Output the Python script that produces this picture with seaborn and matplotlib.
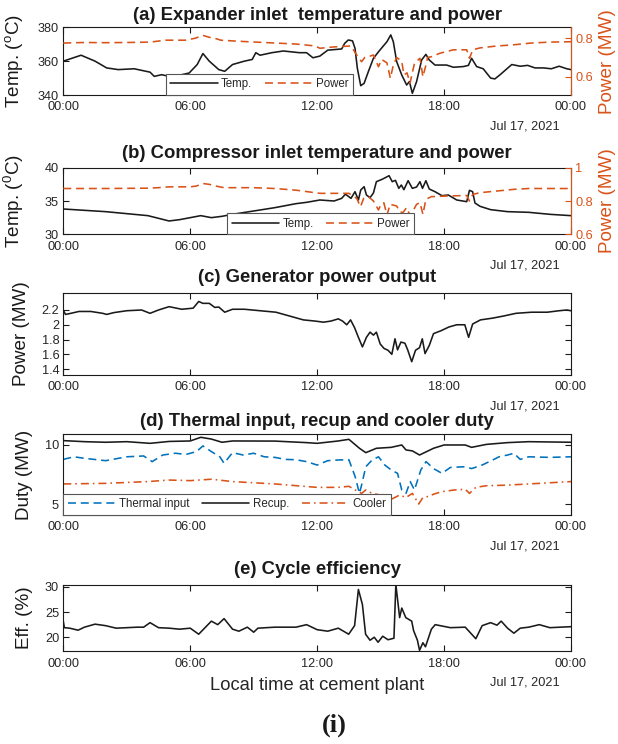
import matplotlib
matplotlib.use("Agg")
import matplotlib.pyplot as plt
import seaborn as sns
import numpy as np

# ---------------- data (hours since 00:00 Jul 16, 2021) ----------------
xtick_hours = [0, 6, 12, 18, 24]
xtick_labels = ["00:00", "06:00", "12:00", "18:00", "00:00"]
date_label = "Jul 17, 2021"

# (a) expander inlet temperature (degC) and power (MW)
t_exp_temp = [0, 0.84, 1.5, 2.05, 2.6, 3.35, 4.1, 4.3, 4.65, 5.0, 5.6, 5.95, 6.33, 6.6, 6.9, 7.35, 7.63, 8.0,
              8.56, 8.93, 9.1, 9.3, 9.86, 10.4, 11.16, 11.5, 11.8, 12.13, 12.5, 13.16, 13.3, 13.47, 13.67,
              13.79, 13.9, 14.06, 14.22, 14.42, 14.66, 14.97, 15.3, 15.48, 15.6, 15.76, 16.0, 16.23, 16.36,
              16.5, 16.7, 16.94, 17.14, 17.3, 17.57, 18.12, 18.44, 18.91, 19.15, 19.3, 19.54, 19.85, 20.2,
              20.4, 20.65, 21.2, 21.6, 21.95, 22.3, 22.7, 23.07, 23.44, 23.8, 24]
exp_temp = [360, 363.5, 360, 356, 355, 355.5, 353.5, 351, 352, 351, 352, 353, 358, 364.5, 360, 355, 354, 358,
            360, 361, 365, 363.5, 365, 366, 365, 365, 362, 363, 366.5, 367.2, 370.5, 372.5, 372,
            367.6, 355.8, 345.5, 346.9, 353.8, 361.7, 366.6, 371.5, 375.5, 371.5, 359.7, 351.8, 345.9, 347.9,
            341, 347.9, 360.7, 364, 360.7, 357.7, 357.7, 356.4, 356.8, 357.5, 361.7, 356.8, 355.5, 350,
            349.5, 352, 358, 357, 357.5, 356, 356, 355.5, 357, 355.5, 355]

t_exp_pow = [0, 1, 2, 3, 4.1, 4.84, 5.77, 6.23, 6.6, 6.9, 7.16, 7.44, 8.2, 9.1, 10.05, 11, 11.9, 12.13, 12.8,
             13.6, 13.87, 14.1, 14.25, 14.42, 14.66, 14.9, 15.05, 15.3, 15.46, 15.6, 15.76, 16.0, 16.1, 16.25,
             16.39, 16.6, 16.86, 17.0, 17.14, 17.22, 17.4, 17.8, 18.44, 19.07, 19.2, 19.36, 19.7, 20.5, 21.2,
             22.1, 23, 24]
exp_pow = [0.775, 0.778, 0.777, 0.778, 0.78, 0.79, 0.79, 0.80, 0.815, 0.805, 0.80, 0.79, 0.785, 0.78, 0.775,
           0.77, 0.76, 0.748, 0.755, 0.76, 0.713, 0.678, 0.70, 0.704, 0.713, 0.652, 0.69, 0.672, 0.592, 0.66,
           0.70, 0.68, 0.61, 0.62, 0.566, 0.67, 0.696, 0.60, 0.66, 0.70, 0.704, 0.722, 0.74, 0.74, 0.696,
           0.74, 0.75, 0.76, 0.765, 0.775, 0.78, 0.782]

# (b) compressor inlet temperature (degC) and power (MW)
t_comp_temp = [0, 0.5, 1, 2, 3, 4, 4.5, 5, 5.5, 6, 6.5, 7, 7.5, 8, 9, 10, 11, 11.5, 12.13, 12.8, 13.16, 13.3,
               13.35, 13.6, 13.79, 13.95, 14.06, 14.22, 14.33, 14.5, 14.66, 14.8, 15.1, 15.4, 15.55, 15.7,
               15.86, 15.98, 16.1, 16.3, 16.5, 16.7, 16.86, 16.98, 17.14, 17.3, 17.57, 17.9, 18.2, 18.6,
               19.07, 19.2, 19.35, 19.46, 19.7, 20.2, 21, 22, 23, 24]
comp_temp = [33.8, 33.7, 33.6, 33.4, 33.1, 32.8, 32.4, 32.0, 32.2, 32.5, 32.8, 32.5, 32.7, 33.0, 33.5, 34.0,
             34.6, 34.8, 35.15, 35.0, 35.4, 35.9, 36.0, 35.4, 36.4, 35.15, 36.65, 37.15, 35.9, 35.5, 36.2,
             37.9, 38.3, 38.8, 37.9, 38.1, 36.9, 37.4, 36.7, 38.05, 36.9, 37.1, 37.9, 36.9, 38.05, 36.8,
             36.4, 35.8, 35.9, 35.15, 34.9, 36.6, 36.4, 34.7, 34.2, 33.7, 33.4, 33.3, 33.0, 32.8]

t_comp_pow = [0, 2, 4, 4.5, 5, 6, 6.3, 6.6, 6.9, 7.2, 7.6, 9, 10, 11, 12.13, 13.5, 13.87, 14.05, 14.2, 14.42,
              14.66, 14.9, 14.98, 15.15, 15.3, 15.45, 15.76, 15.9, 16.05, 16.23, 16.4, 16.7, 16.86, 17.0,
              17.14, 17.4, 18.1, 19.07, 19.2, 19.36, 19.7, 20.5, 21.3, 22, 24]
comp_pow = [0.875, 0.875, 0.877, 0.88, 0.885, 0.885, 0.89, 0.905, 0.9, 0.89, 0.88, 0.88, 0.875, 0.865,
            0.846, 0.846, 0.816, 0.766, 0.816, 0.826, 0.80, 0.746, 0.77, 0.79, 0.716, 0.78, 0.77, 0.736,
            0.73, 0.76, 0.71, 0.78, 0.79, 0.72, 0.81, 0.826, 0.83, 0.833, 0.80, 0.84, 0.85, 0.86, 0.87,
            0.875, 0.875]

# (c) generator power output (MW)
t_gen = [0, 0.1, 0.28, 0.74, 1.3, 1.86, 2.05, 2.4, 3.0, 3.7, 4.1, 4.5, 5.0, 5.6, 6.14, 6.4, 6.6, 6.9, 7.16,
         7.35, 7.63, 8.0, 8.56, 9.3, 10.05, 10.8, 11.35, 11.9, 12.3, 12.65, 13.0, 13.2, 13.4, 13.58, 13.77,
         13.95, 14.14, 14.33, 14.5, 14.66, 14.8, 14.98, 15.16, 15.35, 15.53, 15.68, 15.8, 15.96, 16.15,
         16.28, 16.47, 16.65, 16.84, 16.97, 17.1, 17.3, 17.5, 17.86, 18.23, 18.6, 18.98, 19.16, 19.35,
         19.72, 20.3, 20.84, 21.4, 22.14, 22.88, 23.44, 23.8, 24]
gen_pow = [2.2, 2.14, 2.15, 2.18, 2.18, 2.155, 2.14, 2.165, 2.19, 2.2, 2.155, 2.2, 2.245, 2.21, 2.225, 2.315,
           2.29, 2.29, 2.235, 2.24, 2.17, 2.21, 2.21, 2.19, 2.17, 2.11, 2.066, 2.05, 2.035, 2.05, 2.08, 2.05,
           2.0, 2.066, 1.96, 1.83, 1.70, 1.83, 1.9, 1.86, 1.9, 1.74, 1.68, 1.655, 1.60, 1.81, 1.66, 1.766,
           1.75, 1.66, 1.50, 1.655, 1.69, 1.81, 1.61, 1.72, 1.88, 1.92, 1.97, 2.0, 2.0, 1.83, 2.01, 2.066,
           2.09, 2.12, 2.155, 2.17, 2.17, 2.19, 2.2, 2.19]

# (d) thermal input, recuperator and cooler duty (MW)
t_thermal = [0, 0.5, 1, 2, 3, 3.8, 4.2, 4.7, 5.3, 5.8, 6.3, 6.6, 7.0, 7.4, 7.6, 8.0, 8.5, 9.0, 9.5, 10.0,
             10.5, 11.0, 11.5, 12.0, 12.5, 13.0, 13.5, 13.8, 14.0, 14.1, 14.3, 14.6, 14.9, 15.2, 15.5, 15.8,
             16.0, 16.2, 16.4, 16.6, 16.9, 17.15, 17.5, 17.9, 18.3, 19.0, 19.3, 19.8, 20.3, 20.6, 21.0,
             21.3, 21.6, 22.0, 23.0, 24.0]
thermal = [8.78, 9.0, 8.87, 8.67, 9.0, 9.07, 8.59, 9.15, 9.3, 9.2, 9.44, 9.92, 9.44, 9.0, 8.45, 9.35, 9.15,
           9.3, 9.0, 8.95, 8.78, 8.75, 8.59, 8.3, 8.67, 8.73, 8.75, 7.3, 5.9, 6.6, 8.16, 8.73, 9.0, 8.3,
           7.88, 7.6, 6.19, 5.9, 6.9, 6.19, 7.88, 8.59, 8.0, 7.6, 8.1, 8.16, 8.0, 8.3, 8.73, 9.0, 9.15, 9.3,
           8.78, 9.0, 8.95, 9.0]

t_recup = [0, 1, 2, 3, 4.1, 5, 6, 6.5, 7, 7.5, 8, 10, 11.5, 12, 13, 13.5, 14, 14.3, 14.8, 15.5, 16.0, 16.2,
           16.5, 16.84, 17.5, 18, 19, 19.3, 20, 21, 22, 24]
recup = [10.37, 10.28, 10.23, 10.28, 10.14, 10.3, 10.34, 10.65, 10.5, 10.23, 10.34, 10.33, 10.2, 10.14,
         10.34, 10.48, 9.72, 9.35, 9.72, 9.8, 10.0, 9.58, 9.5, 9.15, 9.72, 10.0, 10.0, 9.8, 10.05, 10.2,
         10.28, 10.23]

t_cooler = [0, 2, 4, 5, 6, 7, 8, 10, 12, 13, 13.5, 13.8, 14.1, 14.3, 14.6, 15.0, 15.5, 15.9, 16.2, 16.5,
            16.8, 17.0, 17.3, 17.5, 17.9, 18.5, 19.0, 19.2, 19.5, 20, 21, 22, 24]
cooler = [6.7, 6.75, 6.9, 7.03, 6.98, 7.1, 6.9, 6.7, 6.41, 6.41, 6.5, 6.19, 5.9, 6.19, 5.9, 5.76, 5.4, 5.76,
          5.55, 5.9, 5.0, 5.55, 5.66, 5.83, 6.05, 6.19, 6.25, 5.9, 6.41, 6.55, 6.6, 6.7, 6.9]

# (e) cycle efficiency (%)
t_eff = [0, 0.05, 0.3, 0.7, 1.0, 1.5, 2.0, 2.5, 3.0, 3.5, 3.8, 4.1, 4.5, 5.0, 5.5, 6.0, 6.4, 7.0, 7.3, 7.6,
         8.0, 8.3, 8.7, 9.0, 9.2, 10, 11, 11.5, 12, 12.5, 13, 13.49, 13.77, 13.95, 14.14, 14.29, 14.5, 14.7,
         14.88, 15.1, 15.35, 15.63, 15.72, 15.9, 16.0, 16.19, 16.47, 16.56, 16.74, 16.84, 17.0, 17.12,
         17.4, 17.58, 18.3, 19.0, 19.5, 19.8, 20.2, 20.5, 20.7, 21.0, 21.3, 21.6, 22.0, 22.5, 23.0, 23.5, 24]
eff = [23.2, 21.9, 21.8, 21.4, 22.0, 22.6, 22.3, 21.8, 21.9, 22.0, 22.0, 22.9, 21.9, 21.8, 21.6, 21.8, 20.6,
       23.2, 22.5, 23.7, 21.6, 21.2, 22.0, 21.0, 21.8, 22.0, 22.0, 22.5, 21.5, 21.2, 21.8, 20.6, 22.3, 29.5,
       26.5, 20.6, 19.4, 20.0, 19.0, 20.2, 19.5, 19.8, 30.5, 23.9, 25.8, 23.9, 23.2, 21.3, 19.4, 17.4, 18.9,
       18.1, 21.6, 22.5, 21.9, 22.0, 19.7, 22.3, 22.9, 22.4, 23.2, 21.8, 20.8, 21.8, 22.0, 22.5, 21.9, 22.0,
       22.1]

# ---------------- styling ----------------
sns.set_theme(style="white")
plt.rcParams["font.family"] = ["Liberation Sans", "DejaVu Sans"]
plt.rcParams["mathtext.fontset"] = "custom"
plt.rcParams["mathtext.rm"] = "Liberation Sans"

ORANGE = "#D95319"
BLUE = "#0072BD"
TICKC = "#262626"
LW = 1.15
DASH = (5, 3)
DASHDOT = (5, 2.5, 1, 2.5)
TICK_FS = 9.2
LABEL_FS = 13.6
TITLE_FS = 13.3

W, H = 618, 744
fig = plt.figure(figsize=(W / 100, H / 100), dpi=100)

LEFT, RIGHT = 63.3, 571.0
AXW = RIGHT - LEFT


def make_ax(top, bottom):
    return fig.add_axes([LEFT / W, 1 - bottom / H, AXW / W, (bottom - top) / H])


def style_x(ax):
    ax.set_xlim(0, 24)
    ax.set_xticks(xtick_hours)
    ax.set_xticklabels(xtick_labels)
    ax.set_xlabel("")
    ax.tick_params(axis="x", direction="in", length=4, width=0.8, pad=4.5, labelsize=TICK_FS,
                   labelcolor=TICKC, color="k", top=True, bottom=True)
    ax.annotate(date_label, xy=(1, 0), xycoords="axes fraction", xytext=(-8.0, -22.5),
                textcoords="offset points", ha="right", va="center", fontsize=TICK_FS, color=TICKC)
    for s in ax.spines.values():
        s.set_color("k")
        s.set_linewidth(0.8)


def style_y(ax, ticks, lim, ylabel, lab_right_px, right_ticks=True):
    ax.set_ylim(*lim)
    ax.set_yticks(ticks)
    ax.tick_params(axis="y", direction="in", length=4, width=0.8, pad=3, labelsize=TICK_FS,
                   labelcolor=TICKC, color="k", left=True, right=right_ticks)
    ax.set_ylabel(ylabel, fontsize=LABEL_FS, color="k")
    # label anchor = right edge of the rotated text (pixel position)
    ax.yaxis.set_label_coords((lab_right_px - LEFT) / AXW, 0.5)


def title(ypix, text):
    fig.text((LEFT + RIGHT) / 2 / W, 1 - ypix / H, text, ha="center", va="center",
             fontsize=TITLE_FS, fontweight="bold", color="k")


def legend(ax, handles, labels, ncol, loc, anchor):
    leg = ax.legend(handles, labels, ncol=ncol, loc=loc, bbox_to_anchor=anchor, fontsize=8.3,
                    frameon=True, fancybox=False, edgecolor="#555555", framealpha=1,
                    handlelength=4.1, handletextpad=0.3, columnspacing=1.1, borderpad=0.4,
                    borderaxespad=0, labelspacing=0.2)
    leg.get_frame().set_linewidth(0.8)
    return leg


def twin_right(ax, lim, ticks):
    ax2 = ax.twinx()
    ax2.set_ylim(*lim)
    ax2.set_yticks(ticks)
    ax2.tick_params(axis="y", direction="in", length=4, width=0.8, pad=3, labelsize=TICK_FS,
                    labelcolor=ORANGE, color=ORANGE, right=True, left=False)
    ax2.spines["right"].set_color(ORANGE)
    ax2.spines["right"].set_linewidth(0.8)
    for s in ("top", "left", "bottom"):
        ax2.spines[s].set_visible(False)
    ax2.grid(False)
    return ax2


def right_label(ax2):
    ax2.set_ylabel("Power (MW)", fontsize=LABEL_FS, color=ORANGE)
    ax2.yaxis.set_label_coords((599 - LEFT) / AXW, 0.5)


# ---------- (a) ----------
axa = make_ax(27.3, 95.0)
sns.lineplot(x=t_exp_temp, y=exp_temp, ax=axa, color="k", lw=LW, legend=False)
style_x(axa)
style_y(axa, [340, 360, 380], (340, 380), r"Temp. ($^{\rm o}$C)", 26, right_ticks=False)
axa2 = twin_right(axa, (0.505, 0.857), [0.6, 0.8])
sns.lineplot(x=t_exp_pow, y=exp_pow, ax=axa2, color=ORANGE, lw=LW, legend=False)
axa2.lines[-1].set_dashes(DASH)
axa2.set_xlim(0, 24)
right_label(axa2)
legend(axa2, [axa.lines[0], axa2.lines[0]], ["Temp.", "Power"], 2, "lower center", (0.386, 0.0))
title(15, "(a) Expander inlet  temperature and power")

# ---------- (b) ----------
axb = make_ax(167.7, 234.3)
sns.lineplot(x=t_comp_temp, y=comp_temp, ax=axb, color="k", lw=LW, legend=False)
style_x(axb)
style_y(axb, [30, 35, 40], (30, 40), r"Temp. ($^{0}$C)", 26, right_ticks=False)
axb2 = twin_right(axb, (0.6, 1.0), [0.6, 0.8, 1.0])
axb2.set_yticklabels(["0.6", "0.8", "1"])
sns.lineplot(x=t_comp_pow, y=comp_pow, ax=axb2, color=ORANGE, lw=LW, legend=False)
axb2.lines[-1].set_dashes(DASH)
axb2.set_xlim(0, 24)
right_label(axb2)
legend(axb2, [axb.lines[0], axb2.lines[0]], ["Temp.", "Power"], 2, "lower center", (0.507, 0.0))
title(154, "(b) Compressor inlet temperature and power")

# ---------- (c) ----------
axc = make_ax(293.0, 375.0)
sns.lineplot(x=t_gen, y=gen_pow, ax=axc, color="k", lw=LW, legend=False)
style_x(axc)
style_y(axc, [1.4, 1.6, 1.8, 2.0, 2.2], (1.32, 2.43), "Power (MW)", 30)
axc.set_yticklabels(["1.4", "1.6", "1.8", "2", "2.2"])
title(277, "(c) Generator power output")

# ---------- (d) ----------
axd = make_ax(434.0, 515.0)
sns.lineplot(x=t_thermal, y=thermal, ax=axd, color=BLUE, lw=LW, legend=False)
axd.lines[-1].set_dashes(DASH)
sns.lineplot(x=t_recup, y=recup, ax=axd, color="k", lw=LW, legend=False)
sns.lineplot(x=t_cooler, y=cooler, ax=axd, color=ORANGE, lw=LW, legend=False)
axd.lines[-1].set_dashes(DASHDOT)
style_x(axd)
style_y(axd, [5, 10], (4.07, 10.93), "Duty (MW)", 33)
legend(axd, axd.lines[:3], ["Thermal input", "Recup.", "Cooler"], 3, "lower left", (0.0, 0.0))
title(421.5, "(d) Thermal input, recup and cooler duty")

# ---------- (e) ----------
axe = make_ax(584.7, 651.3)
sns.lineplot(x=t_eff, y=eff, ax=axe, color="k", lw=LW, legend=False)
style_x(axe)
style_y(axe, [20, 25, 30], (17.2, 30.45), "Eff. (%)", 33)
title(570, "(e) Cycle efficiency")

fig.text((LEFT + RIGHT) / 2 / W, 1 - 686 / H, "Local time at cement plant", ha="center", va="center",
         fontsize=13.2, color=TICKC)
fig.text(334 / W, 1 - 725 / H, "(i)", ha="center", va="center", fontsize=19, fontweight="bold",
         family=["Liberation Serif", "DejaVu Serif"], color="k")

fig.savefig("out.png", dpi=100)
